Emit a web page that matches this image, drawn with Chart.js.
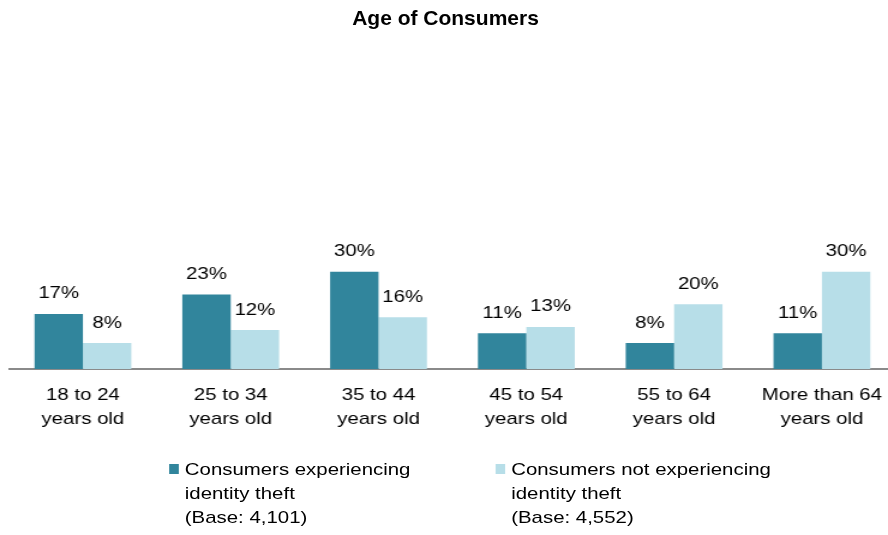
<!DOCTYPE html>
<html>
<head>
<meta charset="utf-8">
<script src="https://cdn.jsdelivr.net/npm/chart.js@4.4.1/dist/chart.umd.min.js"></script>
<style>
  html, body {
    margin: 0;
    padding: 0;
    background: #ffffff;
    overflow: hidden;
    font-family: "Liberation Sans", Arial, sans-serif;
    color: #000000;
  }
  #title {
    position: absolute;
    left: 0;
    top: 6px;
    width: 891px;
    text-align: center;
    font-weight: bold;
    font-size: 21px;
    line-height: 24px;
  }
  /* the chart is drawn narrow and widened as a whole */
  #wrap {
    position: absolute;
    left: 0;
    top: 0;
    width: 740px;
    height: 535px;
    overflow: hidden;
    transform: scaleX(1.2);
    transform-origin: 0 0;
  }
  #age-chart {
    position: absolute;
    left: 0;
    top: 0;
  }
  .legend-item {
    position: absolute;
    top: 458px;
    font-size: 17px;
    line-height: 24px;
  }
  .legend-box {
    position: absolute;
    top: 6px;
    width: 8.3px;
    height: 10px;
  }
  .legend-text {
    position: absolute;
    left: 13px;
    white-space: nowrap;
  }
</style>
</head>
<body>
<div id="wrap">
  <canvas id="age-chart" width="755" height="535"></canvas>
  <div class="legend-item" style="left:141px">
    <div class="legend-box" style="background:#31859c"></div>
    <div class="legend-text">Consumers experiencing<br>identity theft<br>(Base: 4,101)</div>
  </div>
  <div class="legend-item" style="left:413px">
    <div class="legend-box" style="background:#b7dee8"></div>
    <div class="legend-text">Consumers not experiencing<br>identity theft<br>(Base: 4,552)</div>
  </div>
</div>
<div id="title">Age of Consumers</div>

<script>
// age groups, two lines per label
const ageGroups = [
  ["18 to 24", "years old"],
  ["25 to 34", "years old"],
  ["35 to 44", "years old"],
  ["45 to 54", "years old"],
  ["55 to 64", "years old"],
  ["More than 64", "years old"],
];

// share of each group, in percent
const victims = [17, 23, 30, 11, 8, 11];
const nonVictims = [8, 12, 16, 13, 20, 30];

const victimLabel = "Consumers experiencing identity theft (Base: 4,101)";
const nonVictimLabel = "Consumers not experiencing identity theft (Base: 4,552)";

const darkTeal = "#31859c";
const lightTeal = "#b7dee8";
const labelFont = { family: "'Liberation Sans', Arial, sans-serif", size: 17 };

// value labels above each bar
const barValues = {
  id: "barValues",
  afterDatasetsDraw(chart) {
    const ctx = chart.ctx;
    ctx.save();
    ctx.fillStyle = "#000000";
    ctx.font = labelFont.size + "px " + labelFont.family;
    ctx.textAlign = "center";
    ctx.textBaseline = "alphabetic";
    chart.data.datasets.forEach(function (ds, i) {
      chart.getDatasetMeta(i).data.forEach(function (bar, j) {
        ctx.fillText(ds.data[j] + "%", bar.x, bar.y - 15.5);
      });
    });
    ctx.restore();
  },
};

const ageChart = new Chart(document.getElementById("age-chart"), {
  type: "bar",
  data: {
    labels: ageGroups,
    datasets: [
      {
        label: victimLabel,
        data: victims,
        backgroundColor: darkTeal,
      },
      {
        label: nonVictimLabel,
        data: nonVictims,
        backgroundColor: lightTeal,
      },
    ],
  },
  options: {
    responsive: false,
    animation: false,
    devicePixelRatio: 1,
    layout: {
      padding: { top: 45, left: 7.5, right: 8.5, bottom: 0 },
    },
    datasets: {
      bar: {
        categoryPercentage: 0.655,
        barPercentage: 1.0,
      },
    },
    plugins: {
      legend: { display: false },
      title: { display: false },
      tooltip: { enabled: false },
    },
    scales: {
      x: {
        grid: { display: false, drawTicks: false },
        border: { display: true, color: "#8a8a8a", width: 2 },
        ticks: {
          color: "#000000",
          font: { family: labelFont.family, size: 17, lineHeight: 24 / 17 },
          padding: 14,
          autoSkip: false,
          maxRotation: 0,
        },
        afterFit: function (scale) {
          scale.height = 166;
        },
      },
      y: {
        display: false,
        min: 0,
        max: 100,
      },
    },
  },
  plugins: [barValues],
});
</script>
</body>
</html>
